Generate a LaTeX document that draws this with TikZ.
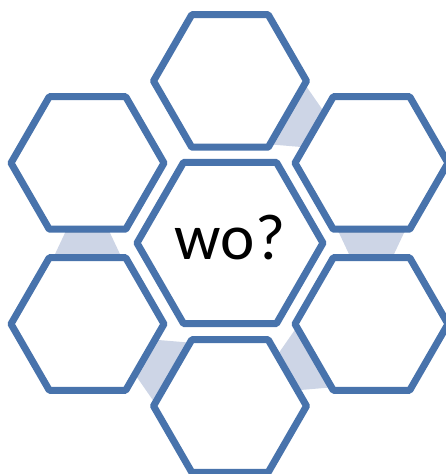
\documentclass[tikz,border=0pt]{standalone}
\usepackage{fontspec}
\setmainfont{Carlito}
\usetikzlibrary{shapes.geometric,calc,backgrounds,shadows.blur}
\definecolor{hexblue}{HTML}{4873AC}
\definecolor{connblue}{HTML}{CDD5E6}
\tikzset{
  hexbase/.style={regular polygon, regular polygon sides=6, draw=hexblue,
    line width=7pt, fill=white, line join=round, inner sep=0pt,
    blur shadow={shadow xshift=0.5pt, shadow yshift=-1pt, shadow opacity=30}},
  outerhex/.style={hexbase, minimum size=153pt},
  centerhex/.style={hexbase, minimum size=186pt},
  connfill/.style={fill=connblue},
  bigtext/.style={font=\fontsize{65}{70}\selectfont, inner sep=0pt}
}
\newcommand\hexconn[3]{%
  \coordinate (m#1#2) at ($(#1)!0.5!(#2)$);
  \begin{scope}[shift={(m#1#2)}, rotate=#3]
    \path[connfill] (-17,35.5) -- (17,19.5) -- (17,-19.5) -- (-17,-35.5) -- cycle;
  \end{scope}}
\begin{document}
\begin{tikzpicture}[x=1pt,y=1pt]
  \useasboundingbox (0,0) rectangle (446,474);
  \node[outerhex] (T)  at (230,393) {};
  \node[outerhex] (UR) at (371.5,311) {};
  \node[outerhex] (LR) at (371.5,150) {};
  \node[outerhex] (B)  at (230,68) {};
  \node[outerhex] (LL) at (87.5,150) {};
  \node[outerhex] (UL) at (87.5,311) {};
  \node[centerhex] (C) at (230,231) {};
  \node[bigtext, anchor=base] (txt) at (230,214) {wo?};
  \begin{pgfonlayer}{background}
    \hexconn{T}{UR}{-30}
    \hexconn{UR}{LR}{-90}
    \hexconn{LR}{B}{-150}
    \hexconn{B}{LL}{150}
    \hexconn{LL}{UL}{90}
  \end{pgfonlayer}
\end{tikzpicture}
\end{document}
